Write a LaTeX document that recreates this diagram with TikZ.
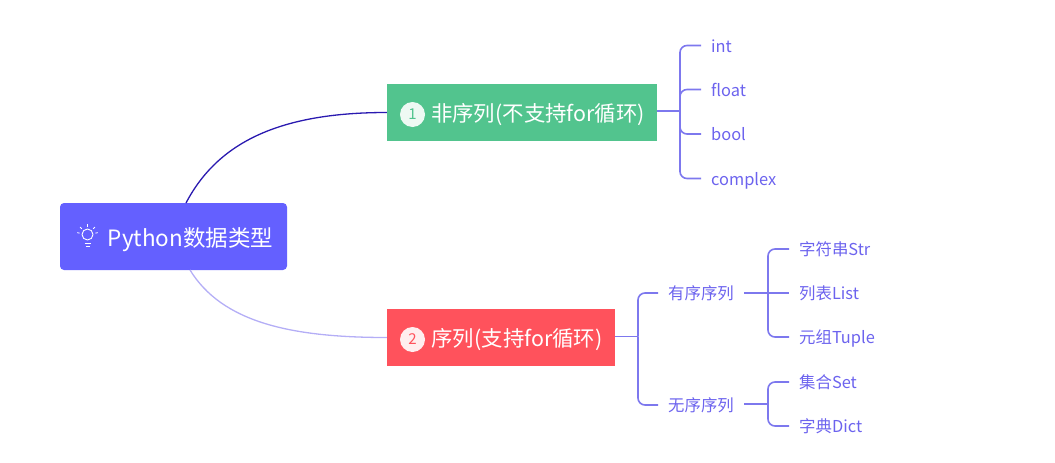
\documentclass[tikz,border=0pt]{standalone}
\usepackage{fontspec}
\setmainfont{Noto Sans CJK SC}
\definecolor{rootblue}{HTML}{6460FF}
\definecolor{seqgreen}{HTML}{52C48E}
\definecolor{seqred}{HTML}{FF525C}
\definecolor{linkblue}{HTML}{7D78EE}
\definecolor{leafblue}{HTML}{6C63EE}
\definecolor{curvedark}{HTML}{2A1AB0}
\definecolor{curvelight}{HTML}{B4AEF6}
\begin{document}
\begin{tikzpicture}[
	x=1pt, y=-1pt,
	rootbox/.style={ fill=rootblue, rounded corners=4pt, text=white, inner sep=0pt, minimum width=227pt, minimum height=67pt, text height=22pt, text depth=2pt, font=\fontsize{22.5}{24}\selectfont },
	topicg/.style={ fill=seqgreen, text=white, inner sep=0pt, minimum width=270pt, minimum height=57pt, text height=20pt, text depth=3pt, font=\fontsize{21.4}{24}\selectfont },
	topicr/.style={ fill=seqred, text=white, inner sep=0pt, minimum width=228pt, minimum height=57pt, text height=20pt, text depth=3pt, font=\fontsize{21.4}{24}\selectfont },
	numdot/.style={ circle, fill=white, fill opacity=0.9, text opacity=1, inner sep=0pt, minimum size=25pt, font=\fontsize{15}{16}\selectfont },
	leaf/.style={ anchor=west, text=leafblue, inner xsep=10pt, inner ysep=0pt, text height=15pt, text depth=2pt, font=\fontsize{16.4}{18}\selectfont },
	link/.style={ draw=linkblue, line width=1.6pt, rounded corners=7pt }
]

\useasboundingbox (0,0) rectangle (1055,463);

\node[rootbox] at (173.5,236.5) (root) {\hspace{34pt}Python数据类型\hspace{8pt}};
\node[topicg] at (522,112.5) (nonseq) {\hspace{32pt}非序列(不支持for循环)\hspace{6pt}};
\node[topicr] at (501,337.5) (seq) {\hspace{32pt}序列(支持for循环)\hspace{6pt}};
\node[numdot,text=seqgreen] at (412.5,114.5) (num1) {1};
\node[numdot,text=seqred] at (412.5,339.5) (num2) {2};

% bulb icon
\draw[white,line width=0.9pt] (87.5,234.5) circle (5.5);
\draw[white,line width=0.9pt] (84.5,243) to (90.5,243);
\draw[white,line width=0.9pt] (85.5,246) to (89.5,246);
\foreach \a in {-170,-135,-90,-45,-10}
	\draw[white,line width=0.8pt] (87.5,234.5) ++(\a:8) to ++(\a:2.5);

\coordinate (rootup) at (186,203);
\coordinate (rootdown) at (190,270);
\draw[curvedark,line width=1.3pt] (rootup) .. controls (218,142) and (280,112.5) .. (nonseq.west);
\draw[curvelight,line width=1.3pt] (rootdown) .. controls (222,322) and (290,337.5) .. (seq.west);

\node[leaf] at (701,45.5) (int) {int};
\node[leaf] at (701,89.5) (float) {float};
\node[leaf] at (701,134) (bool) {bool};
\node[leaf] at (701,178.5) (complex) {complex};
\coordinate (j1) at (680,111);
\draw[link] (nonseq.east |- j1) to (j1);
\draw[link] (j1) |- (int.west);
\draw[link] (j1) |- (float.west);
\draw[link] (j1) |- (bool.west);
\draw[link] (j1) |- (complex.west);

\node[leaf] at (658,293) (ordered) {有序序列};
\node[leaf] at (658,405) (unordered) {无序序列};
\coordinate (j2) at (638,336.5);
\draw[link] (seq.east |- j2) to (j2);
\draw[link] (j2) |- (ordered.west);
\draw[link] (j2) |- (unordered.west);

\node[leaf] at (789,249) (str) {字符串Str};
\node[leaf] at (789,293) (list) {列表List};
\node[leaf] at (789,337) (tuple) {元组Tuple};
\coordinate (j3) at (768,293);
\draw[link] (ordered.east) to (list.west);
\draw[link] (j3) |- (str.west);
\draw[link] (j3) |- (tuple.west);

\node[leaf] at (789,382) (set) {集合Set};
\node[leaf] at (789,426) (dict) {字典Dict};
\coordinate (j4) at (768,404);
\draw[link] (unordered.east |- j4) to (j4);
\draw[link] (j4) |- (set.west);
\draw[link] (j4) |- (dict.west);

\end{tikzpicture}
\end{document}
